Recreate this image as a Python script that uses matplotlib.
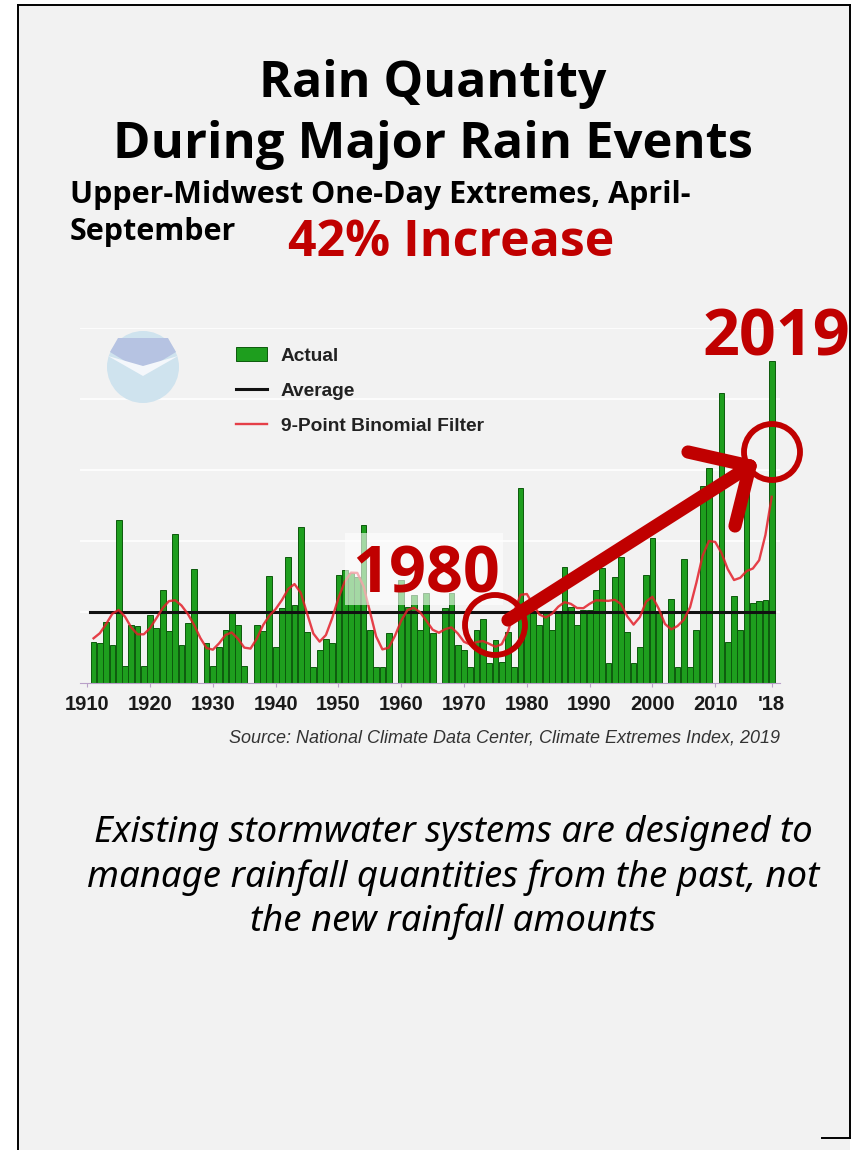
import numpy as np
import matplotlib
matplotlib.use("Agg")
import matplotlib.pyplot as plt
from matplotlib.patches import Rectangle, Ellipse, Polygon
from matplotlib.lines import Line2D

# ---------------- data ----------------
years = list(range(1911, 2020))
values = [
    0.58, 0.56, 0.86, 0.54, 2.30, 0.24, 0.82, 0.80, 0.24, 0.96,   # 1911-1920
    0.78, 1.31, 0.73, 2.10, 0.54, 0.84, 1.60, 0.00, 0.56, 0.24,   # 1921-1930
    0.51, 0.75, 1.00, 0.82, 0.24, 0.00, 0.82, 0.73, 1.51, 0.51,   # 1931-1940
    1.05, 1.77, 1.10, 2.20, 0.72, 0.23, 0.47, 0.62, 0.57, 1.52,   # 1941-1950
    1.59, 1.55, 1.50, 2.23, 0.75, 0.23, 0.23, 0.70, 0.00, 1.45,   # 1951-1960
    1.07, 1.24, 0.75, 1.27, 0.70, 0.00, 1.05, 1.27, 0.54, 0.47,   # 1961-1970
    0.23, 0.75, 0.90, 0.28, 0.60, 0.30, 0.72, 0.23, 2.74, 0.98,   # 1971-1980
    0.98, 0.82, 0.98, 0.75, 0.98, 1.64, 1.07, 0.82, 1.03, 1.03,   # 1981-1990
    1.31, 1.62, 0.28, 1.50, 1.78, 0.72, 0.28, 0.51, 1.52, 2.04,   # 1991-2000
    1.00, 0.00, 1.19, 0.23, 1.74, 0.23, 0.75, 2.77, 3.03, 0.00,   # 2001-2010
    4.08, 0.58, 1.22, 0.75, 3.00, 1.12, 1.15, 1.17, 4.54,         # 2011-2019
]
average = 1.0
tick_years = [1910, 1920, 1930, 1940, 1950, 1960, 1970, 1980, 1990, 2000, 2010, 2019]
tick_labels = ["1910", "1920", "1930", "1940", "1950", "1960", "1970", "1980",
               "1990", "2000", "2010", "'18"]
filter_weights = [1, 8, 28, 56, 70, 56, 28, 8, 1]

# ---------------- figure ----------------
W, H = 858, 1150
fig = plt.figure(figsize=(W / 100, H / 100), dpi=100, facecolor="white")


def fx(px):
    return px / W


def fy(py):
    return 1 - py / H


# page background and frame
fig.add_artist(Rectangle((fx(18), 0), fx(850) - fx(18), fy(5), transform=fig.transFigure,
                         facecolor="#f2f2f2", edgecolor="none", zorder=0))
frame_kw = dict(color="black", lw=1.4, transform=fig.transFigure, zorder=1)
fig.add_artist(Line2D([fx(18), fx(18)], [fy(5), 0], **frame_kw))
fig.add_artist(Line2D([fx(18), fx(850)], [fy(5), fy(5)], **frame_kw))
fig.add_artist(Line2D([fx(850), fx(850)], [fy(5), fy(1138)], **frame_kw))
fig.add_artist(Line2D([fx(822), fx(850)], [fy(1138), fy(1138)], **frame_kw))

# titles
title_font = ["Open Sans", "DejaVu Sans"]
fig.text(fx(433), fy(84), "Rain Quantity", ha="center", va="center",
         fontsize=36, fontweight="bold", family=title_font)
fig.text(fx(433), fy(145), "During Major Rain Events", ha="center", va="center",
         fontsize=36.5, fontweight="bold", family=title_font)
fig.text(fx(70), fy(195), "Upper-Midwest One-Day Extremes, April-", ha="left", va="center",
         fontsize=22, fontweight="bold", family=title_font)
fig.text(fx(70), fy(232), "September", ha="left", va="center",
         fontsize=22, fontweight="bold", family=title_font)
fig.text(fx(451), fy(243), "42% Increase", ha="center", va="center",
         fontsize=36, fontweight="bold", color="#c00000", family=title_font)

# ---------------- chart axes ----------------
ax_left, ax_right, ax_top, ax_bottom = 80, 780, 328, 683
ax = fig.add_axes([fx(ax_left), fy(ax_bottom), fx(ax_right) - fx(ax_left),
                   fy(ax_top) - fy(ax_bottom)])
ax.set_facecolor("#f2f2f2")
px_per_year = (771.7 - 87.3) / (2019 - 1910)
ax.set_xlim(1910 - (87.3 - ax_left) / px_per_year, 2019 + (ax_right - 771.7) / px_per_year)
ax.set_ylim(0, 5.0)

for g in [1, 2, 3, 4, 5]:
    ax.axhline(g, color="#ffffff", lw=1.2, zorder=0.5)

h_bar = ax.bar(years, values, width=0.92, color="#1e9e1e", edgecolor="#0c5a0c",
               linewidth=0.7, zorder=2, label="Actual")
h_avg, = ax.plot([years[0] - 0.5, years[-1] + 0.3], [average, average], color="#111111",
                 lw=2.2, zorder=3, label="Average")

v = np.array(values, dtype=float)
w = np.array(filter_weights, dtype=float)
n = len(v)
half = len(w) // 2
smooth = np.empty(n)
for i in range(n):
    lo, hi = max(0, i - half), min(n, i + half + 1)
    ww = w[lo - i + half: hi - i + half]
    smooth[i] = (v[lo:hi] * ww).sum() / ww.sum()
h_flt, = ax.plot(years, smooth, color="#e3202a", lw=1.7, zorder=4, alpha=0.85,
                 label="9-Point Binomial Filter")

ax.set_xticks(tick_years)
ax.set_xticklabels(tick_labels)
ax.set_yticks([])
for s in ["left", "right", "top"]:
    ax.spines[s].set_visible(False)
ax.spines["bottom"].set_color("#b9a0c8")
ax.spines["bottom"].set_linewidth(0.8)
ax.tick_params(axis="x", length=3, color="#b9a0c8", pad=6, labelsize=14.5)
for lab in ax.get_xticklabels():
    lab.set_family(["Liberation Sans Narrow", "Liberation Sans"])
    lab.set_fontweight("bold")
    lab.set_color("#1a1a1a")

leg = ax.legend(handles=[h_bar, h_avg, h_flt], loc="upper left",
                bbox_to_anchor=(fx(226), fy(337)),
                bbox_transform=fig.transFigure, frameon=False,
                handlelength=1.65, handleheight=0.8, labelspacing=0.9, borderpad=0,
                handletextpad=0.7,
                prop={"family": ["Liberation Sans Narrow", "Liberation Sans"],
                      "weight": "bold", "size": 13.8})
for t in leg.get_texts():
    t.set_color("#222222")

# faint NOAA-like emblem
fig.add_artist(Ellipse((fx(143), fy(367)), 72 / W, 72 / H, transform=fig.transFigure,
                       facecolor="#cfe3ee", edgecolor="none", zorder=5))
fig.add_artist(Polygon([(fx(110), fy(352)), (fx(143), fy(372)), (fx(176), fy(352)),
                        (fx(168), fy(338)), (fx(118), fy(338))], closed=True,
                       transform=fig.transFigure, facecolor="#b6c3e2", edgecolor="none",
                       zorder=5.5))
fig.add_artist(Polygon([(fx(108), fy(356)), (fx(143), fy(376)), (fx(178), fy(356)),
                        (fx(143), fy(366))], closed=True, transform=fig.transFigure,
                       facecolor="#f4f7fb", edgecolor="none", zorder=6))

# source
fig.text(fx(780), fy(738), "Source: National Climate Data Center, Climate Extremes Index, 2019",
         ha="right", va="center", fontsize=13.0, style="italic", color="#333333",
         family=["Liberation Sans Narrow", "Liberation Sans"])

# ---------------- annotations ----------------
fig.add_artist(Rectangle((fx(345), fy(605)), (503 - 345) / W, (605 - 533) / H,
                         transform=fig.transFigure, facecolor="white", alpha=0.6,
                         edgecolor="none", zorder=8))
red = "#c00000"
fig.text(fx(426), fy(576), "1980", ha="center", va="center", fontsize=46.5,
         fontweight="bold", color=red, family=title_font, zorder=9)
fig.text(fx(776), fy(339), "2019", ha="center", va="center", fontsize=46.5,
         fontweight="bold", color=red, family=title_font, zorder=9)

fig.add_artist(Ellipse((fx(495), fy(625)), 60 / W, 60 / H, transform=fig.transFigure,
                       facecolor="none", edgecolor=red, lw=4.2, zorder=9))
fig.add_artist(Ellipse((fx(772), fy(452)), 56 / W, 56 / H, transform=fig.transFigure,
                       facecolor="none", edgecolor=red, lw=4.2, zorder=9))
arrow_kw = dict(color=red, lw=9.5, solid_capstyle="round", transform=fig.transFigure,
                zorder=9)
fig.add_artist(Line2D([fx(508), fx(750)], [fy(620), fy(466)], **arrow_kw))
fig.add_artist(Line2D([fx(688), fx(750)], [fy(452), fy(466)], **arrow_kw))
fig.add_artist(Line2D([fx(735), fx(750)], [fy(526), fy(466)], **arrow_kw))

# ---------------- bottom note ----------------
note_font = ["Noto Sans", "Open Sans", "DejaVu Sans"]
note_lines = ["Existing stormwater systems are designed to",
              "manage rainfall quantities from the past, not",
              "the new rainfall amounts"]
for i, line in enumerate(note_lines):
    fig.text(fx(453), fy(833 + 44.5 * i), line, ha="center", va="center", fontsize=26.3,
             style="italic", fontweight="light", color="#000000", family=note_font)

fig.savefig("out.png", dpi=100, facecolor="white")
